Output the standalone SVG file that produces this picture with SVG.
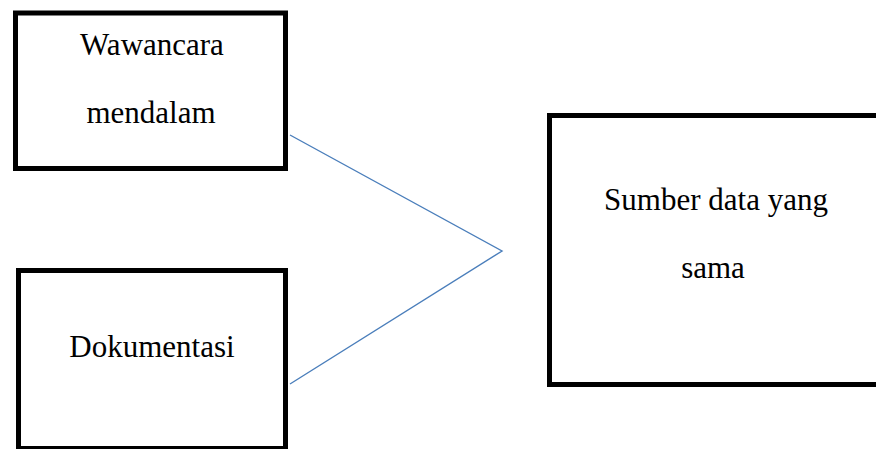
<svg xmlns="http://www.w3.org/2000/svg" width="876" height="449" viewBox="0 0 876 449">
<style>
.box{fill:#fff;stroke:#000;stroke-width:5}
.t{font-family:"Liberation Serif","Times New Roman",serif;font-size:31px;fill:#000;text-anchor:middle}
.c{fill:none;stroke:#4A7EBB;stroke-width:1.4}
</style>
<rect width="876" height="449" fill="#fff"/>
<g id="wawancara">
<rect class="box" x="15.5" y="13" width="270" height="155.5"/>
<text class="t" x="152" y="55">Wawancara</text>
<text class="t" x="151" y="123">mendalam</text>
</g>
<g id="dokumentasi">
<rect class="box" x="18.5" y="270.5" width="267" height="178"/>
<text class="t" x="152" y="357">Dokumentasi</text>
</g>
<g id="sumber">
<rect class="box" x="549.5" y="115.5" width="340" height="269"/>
<text class="t" x="716" y="210">Sumber data yang</text>
<text class="t" x="713" y="278">sama</text>
</g>
<g id="connectors">
<polyline class="c" points="290,135 502,251 290,384"/>
</g>
</svg>
